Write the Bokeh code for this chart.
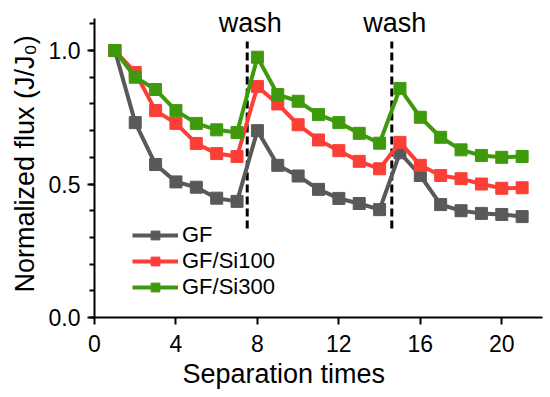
from bokeh.plotting import figure
from bokeh.models import FixedTicker, PrintfTickFormatter, Label, Range1d, Title
from bokeh.embed import file_html
from bokeh.resources import INLINE

# ---- data ----
times = list(range(1, 22))
gf = [1.0, 0.73, 0.573, 0.508, 0.488, 0.447, 0.435, 0.70, 0.57, 0.53, 0.48,
      0.446, 0.427, 0.404, 0.617, 0.532, 0.423, 0.40, 0.39, 0.386, 0.378]
gf_si100 = [1.0, 0.918, 0.775, 0.727, 0.652, 0.614, 0.603, 0.865, 0.80, 0.722, 0.665,
            0.625, 0.585, 0.557, 0.656, 0.57, 0.532, 0.52, 0.50, 0.484, 0.486]
gf_si300 = [1.0, 0.90, 0.854, 0.775, 0.727, 0.703, 0.693, 0.975, 0.835, 0.81, 0.76,
            0.73, 0.69, 0.653, 0.858, 0.75, 0.675, 0.628, 0.607, 0.60, 0.603]
series_names = ["GF", "GF/Si100", "GF/Si300"]
series_colors = ["#595959", "#fb3f36", "#3e9a0c"]

wash_x = [7.5, 14.6]
wash_y0 = 0.333
wash_y1 = 1.034
wash_text_y = 1.075

x_ticks = [0, 4, 8, 12, 16, 20]
y_ticks = [0.0, 0.5, 1.0]
y_minor = [0.1 * i for i in range(12)]

FONT = "Liberation Sans"

p = figure(width=550, height=397, output_backend="svg", toolbar_location=None,
           x_range=Range1d(0, 22), y_range=Range1d(0, 1.15),
           min_border_left=94, min_border_right=8, min_border_top=10, min_border_bottom=80)
p.outline_line_color = None
p.xgrid.visible = False
p.ygrid.visible = False
p.background_fill_color = "white"
p.border_fill_color = "white"

# wash markers
for wx in wash_x:
    p.segment(x0=[wx], y0=[wash_y0], x1=[wx], y1=[wash_y1], line_color="black",
              line_width=3, line_dash="8 4")
    p.add_layout(Label(x=wx, y=wash_text_y, text="wash", text_align="center",
                       text_baseline="alphabetic", x_offset=3, y_offset=8, text_font=FONT,
                       text_font_size="27px", text_color="black"))

for vals, name, col in zip([gf, gf_si100, gf_si300], series_names, series_colors):
    p.line(times, vals, line_color=col, line_width=4, legend_label=name)
    p.scatter(times, vals, marker="square", size=12, fill_color=col, line_color=col,
              legend_label=name)

# axes
for ax in (p.xaxis[0], p.yaxis[0]):
    ax.axis_line_width = 2
    ax.major_tick_line_width = 2
    ax.minor_tick_line_width = 2
    ax.major_tick_in = 0
    ax.major_tick_out = 7
    ax.minor_tick_in = 0
    ax.minor_tick_out = 5
    ax.major_label_text_font = FONT
    ax.major_label_text_font_size = "23px"
    ax.major_label_text_color = "black"
    ax.axis_label_text_font = FONT
    ax.axis_label_text_font_style = "normal"
    ax.axis_label_text_font_size = "27px"
    ax.axis_label_text_color = "black"

p.xaxis.ticker = FixedTicker(ticks=x_ticks, minor_ticks=[])
p.xaxis.major_label_standoff = 10
p.yaxis.ticker = FixedTicker(ticks=y_ticks, minor_ticks=y_minor)
p.yaxis.formatter = PrintfTickFormatter(format="%.1f")
p.yaxis.bounds = (0, 1.12)
p.yaxis.major_label_standoff = 7
p.yaxis.axis_label = "Normalized flux (J/J\u2080)"
p.yaxis.axis_label_standoff = 6

xlabel = Title(text="Separation times", align="left", offset=88, standoff=5,
               text_font=FONT, text_font_size="27px", text_font_style="normal",
               text_color="black")
p.add_layout(xlabel, "below")

leg = p.legend[0]
leg.location = (38, 17)
leg.background_fill_alpha = 0
leg.border_line_color = None
leg.padding = 0
leg.margin = 0
leg.spacing = 0
leg.glyph_width = 46
leg.glyph_height = 22
leg.label_height = 22
leg.label_standoff = 4
leg.label_text_font = FONT
leg.label_text_font_size = "22px"
leg.label_text_color = "black"

open("out.html", "w").write(file_html(p, INLINE))
